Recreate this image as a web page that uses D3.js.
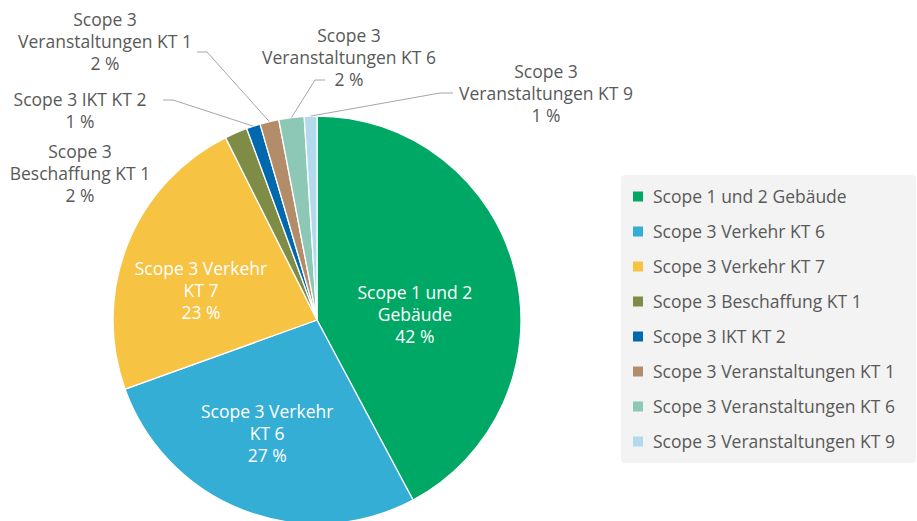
<!DOCTYPE html>
<html><head><meta charset="utf-8">
<script src="https://cdn.jsdelivr.net/npm/d3@7"></script>
<style>
html,body{margin:0;padding:0;background:#fff;}
svg{display:block;font-family:"Open Sans",Lato,sans-serif;}
</style></head>
<body>
<svg id="chart" width="917" height="521"></svg>
<script>
// ---- data ----
const categories = [
  "Scope 1 und 2 Gebäude",
  "Scope 3 Verkehr KT 6",
  "Scope 3 Verkehr KT 7",
  "Scope 3 Beschaffung KT 1",
  "Scope 3 IKT KT 2",
  "Scope 3 Veranstaltungen KT 1",
  "Scope 3 Veranstaltungen KT 6",
  "Scope 3 Veranstaltungen KT 9"
];
const values = [42.2, 27.3, 23.1, 1.8, 1.1, 1.5, 2.0, 1.0];
const percentLabels = ["42 %", "27 %", "23 %", "2 %", "1 %", "2 %", "2 %", "1 %"];
const labelLines = [
  ["Scope 1 und 2", "Gebäude"],
  ["Scope 3 Verkehr", "KT 6"],
  ["Scope 3 Verkehr", "KT 7"],
  ["Scope 3", "Beschaffung KT 1"],
  ["Scope 3 IKT KT 2"],
  ["Scope 3", "Veranstaltungen KT 1"],
  ["Scope 3", "Veranstaltungen KT 6"],
  ["Scope 3", "Veranstaltungen KT 9"]
];
const colors = ["#00a865", "#35aed6", "#f6c342", "#7f8c45", "#0068ad", "#b38d6a", "#8dc8b6", "#b3d9ec"];

// ---- layout ----
const svg = d3.select("#chart");
const cx = 317, cy = 320, R = 204;
const lineH = 22, fontSize = 17.5;

const labelLayout = [
  {inside: true, ang: 87, r: 98},
  {inside: true, ang: 203.7, r: 124},
  {inside: true, ang: 284, r: 119.6},
  {inside: false, x: 80, y: 174, leader: null},
  {inside: false, x: 80, y: 111, leader: {ex: 173, ey: 100, hx: 163}},
  {inside: false, x: 105, y: 42, leader: {ex: 207, ey: 52, hx: 197}},
  {inside: false, x: 349, y: 58, leader: {ex: 315, ey: 80, hx: 325}},
  {inside: false, x: 546, y: 94, leader: {ex: 440, ey: 93, hx: 453}}
];

const pie = d3.pie().sort(null).value(d => d);
const arcs = pie(values);
const arc = d3.arc().innerRadius(0).outerRadius(R);

const g = svg.append("g").attr("transform", `translate(${cx},${cy})`);
g.selectAll("path.slice").data(arcs).enter().append("path")
  .attr("class", "slice")
  .attr("d", arc)
  .attr("fill", (d, i) => colors[i])
  .attr("stroke", "#fff")
  .attr("stroke-width", 1.3)
  .attr("stroke-linejoin", "round");

// leader lines
arcs.forEach((a, i) => {
  const L = labelLayout[i];
  if (L.inside || !L.leader) return;
  const mid = (a.startAngle + a.endAngle) / 2;
  const px = cx + Math.sin(mid) * R, py = cy - Math.cos(mid) * R;
  svg.append("polyline")
    .attr("points", `${px},${py} ${L.leader.ex},${L.leader.ey} ${L.leader.hx},${L.leader.ey}`)
    .attr("fill", "none").attr("stroke", "#a6a6a6").attr("stroke-width", 1);
});

// labels
arcs.forEach((a, i) => {
  const L = labelLayout[i];
  const lines = labelLines[i].concat([percentLabels[i]]);
  let x, y, fill;
  if (L.inside) {
    const t = L.ang * Math.PI / 180;
    x = cx + Math.sin(t) * L.r; y = cy - Math.cos(t) * L.r; fill = "#fff";
  } else { x = L.x; y = L.y; fill = "#595959"; }
  const n = lines.length;
  const t = svg.append("text")
    .attr("x", x).attr("text-anchor", "middle")
    .attr("font-size", fontSize).attr("fill", fill);
  lines.forEach((s, k) => {
    t.append("tspan").attr("x", x)
      .attr("y", y + (k - (n - 1) / 2) * lineH)
      .attr("dy", "0.35em").text(s);
  });
});

// legend
const lg = svg.append("g");
lg.append("rect").attr("x", 621).attr("y", 175).attr("width", 295).attr("height", 288)
  .attr("rx", 4).attr("fill", "#f3f3f3");
const ly = d3.scalePoint().domain(categories).range([196.5, 441.5]);
const items = lg.selectAll("g.item").data(categories).enter().append("g").attr("class", "item")
  .attr("transform", d => `translate(0,${ly(d)})`);
items.append("rect").attr("x", 633).attr("y", -5).attr("width", 10).attr("height", 10)
  .attr("fill", (d, i) => colors[i]);
items.append("text").attr("x", 653).attr("dy", "0.35em")
  .attr("font-size", fontSize).attr("fill", "#595959").text(d => d);
</script>
</body></html>
